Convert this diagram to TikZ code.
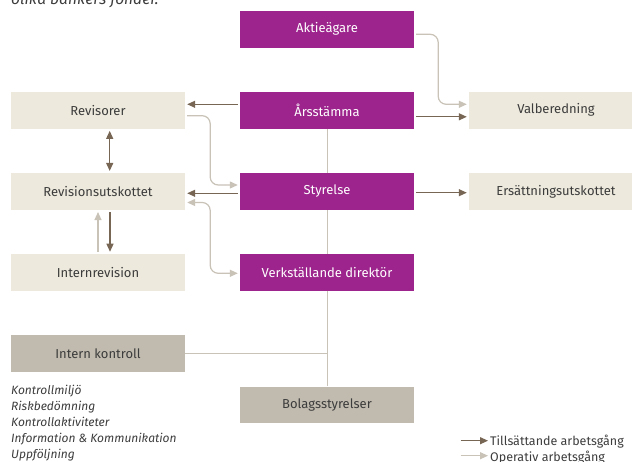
\documentclass[tikz,border=0pt]{standalone}
\usepackage{fontspec}
\setmainfont{Fira Sans}
\usetikzlibrary{arrows.meta,calc}

\definecolor{lila}{RGB}{156,36,140}
\definecolor{ljusbeige}{RGB}{237,233,220}
\definecolor{gråbeige}{RGB}{193,187,175}
\definecolor{mörkpil}{RGB}{120,102,84}
\definecolor{ljuspil}{RGB}{200,194,183}
\definecolor{textgrå}{RGB}{60,60,60}

\begin{document}
\begin{tikzpicture}[x=1pt,y=-1pt,
  ruta/.style={minimum width=174pt,minimum height=36.7pt,inner sep=0pt,font=\fontsize{13}{15}\selectfont},
  lilaruta/.style={ruta,fill=lila,text=white},
  beigeruta/.style={ruta,fill=ljusbeige,text=textgrå},
  gråruta/.style={ruta,fill=gråbeige,text=textgrå},
  tillpil/.style={draw=mörkpil,line width=1.2pt,-{Triangle[length=8pt,width=7pt]},shorten >=2pt,shorten <=2pt},
  oppil/.style={draw=ljuspil,line width=1.2pt,-{Triangle[length=8pt,width=7pt]},shorten >=2pt,shorten <=2pt,rounded corners=8pt},
  linje/.style={draw=ljuspil,line width=1pt}]
\useasboundingbox (0,0) rectangle (632,462);

% Text Node
\node[anchor=base west,inner sep=0pt,font=\fontsize{15.5}{18}\selectfont\itshape,text=textgrå] (rubrik) at (11,4.5) {olika bankers fonder.};

% mitten
\node[lilaruta] (aktie) at (327,29.3) {Aktieägare};
\node[lilaruta] (stamma) at (327,110.3) {Årsstämma};
\node[lilaruta] (styrelse) at (327,191.5) {Styrelse};
\node[lilaruta] (vd) at (327,272.3) {Verkställande direktör};
\node[gråruta] (bolag) at (327,405) {Bolagsstyrelser};

% vänster
\node[beigeruta] (revisorer) at (98,110.3) {Revisorer};
\node[beigeruta] (revutsk) at (98,191.5) {Revisionsutskottet};
\node[beigeruta] (internrev) at (98,272.3) {Internrevision};
\node[gråruta] (kontroll) at (98,353.3) {Intern kontroll};

% höger
\node[beigeruta] (valb) at (556,110.3) {Valberedning};
\node[beigeruta] (ersutsk) at (556,191.5) {Ersättningsutskottet};

% lista
\node[anchor=north west,inner sep=0pt,align=left,text=textgrå,font=\fontsize{12}{16}\selectfont\itshape] (lista) at (11,385)
  {Kontrollmiljö\\Riskbedömning\\Kontrollaktiviteter\\Information \& Kommunikation\\Uppföljning};

%Straight Lines
\draw[linje] (stamma.south) -- (styrelse.north);
\draw[linje] (styrelse.south) -- (vd.north);
\draw[linje] (vd.south) -- (bolag.north);
\draw[linje] (kontroll.east) -- (kontroll.east -| bolag.north);

% tillsättande
\draw[tillpil] ([yshift=6pt]stamma.west) -- ([yshift=6pt]stamma.west -| revisorer.east);
\draw[tillpil] ([yshift=-6.5pt]stamma.east) -- ([yshift=-6.5pt]stamma.east -| valb.west);
\draw[tillpil] ([yshift=-1.8pt]styrelse.west) -- ([yshift=-1.8pt]styrelse.west -| revutsk.east);
\draw[tillpil] ([yshift=-1.2pt]styrelse.east) -- ([yshift=-1.2pt]styrelse.east -| ersutsk.west);
\draw[tillpil,{Triangle[length=8pt,width=7pt]}-{Triangle[length=8pt,width=7pt]}] ([xshift=11.7pt]revisorer.south) -- ([xshift=11.7pt]revutsk.north);
\draw[tillpil] ([xshift=12pt]revutsk.south) -- ([xshift=12pt]internrev.north);

% operativ
\draw[oppil] ([yshift=-5pt]aktie.east) -- ++(24,0) |- ([yshift=6pt]valb.west);
\draw[oppil] ([yshift=-5.4pt]revisorer.east) -- ++(25,0) |- ([yshift=6.5pt]styrelse.west);
\draw[oppil,{Triangle[length=8pt,width=7pt]}-{Triangle[length=8pt,width=7pt]}] ([yshift=-11pt]revutsk.east) -- ++(25,0) |- ([yshift=-1pt]vd.west);
\draw[oppil] (internrev.north) -- (revutsk.south);

% förklaring
\coordinate (till1) at (460.7,440.7);
\coordinate (till2) at (488,440.7);
\coordinate (op1) at (460.7,455.7);
\coordinate (op2) at (488,455.7);
\draw[tillpil,shorten >=0pt,shorten <=0pt] (till1) -- (till2);
\draw[oppil,shorten >=0pt,shorten <=0pt] (op1) -- (op2);
\node[anchor=base west,inner sep=0pt,text=textgrå,font=\fontsize{12.5}{15}\selectfont] (tilltext) at (490,445) {Tillsättande arbetsgång};
\node[anchor=base west,inner sep=0pt,text=textgrå,font=\fontsize{12.5}{15}\selectfont] (optext) at (490,461.5) {Operativ arbetsgång};
\end{tikzpicture}
\end{document}
